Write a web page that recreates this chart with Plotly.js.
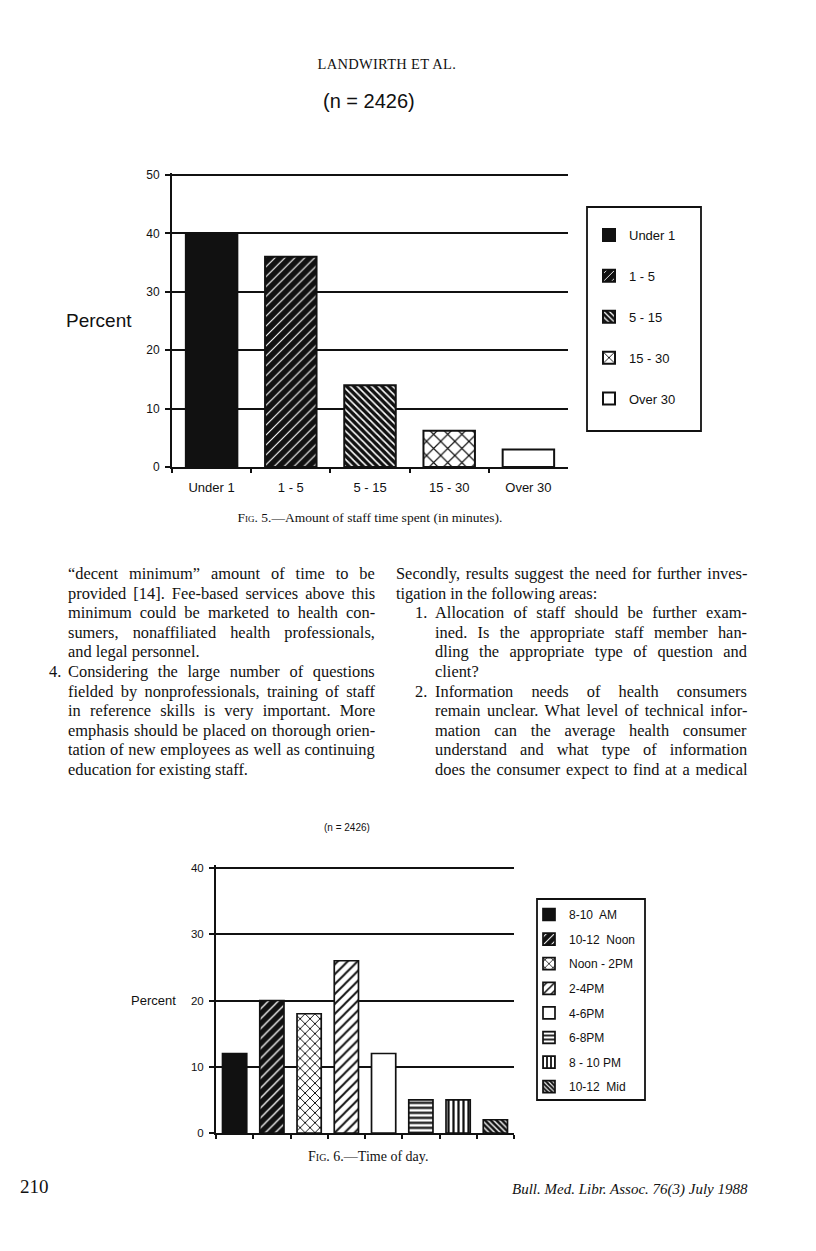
<!DOCTYPE html>
<html>
<head>
<meta charset="utf-8">
<script src="https://cdn.plot.ly/plotly-3.0.1.min.js"></script>
<style>
html,body{margin:0;padding:0;background:#fff;}
#page{position:relative;width:816px;height:1251px;overflow:hidden;background:#fff;}
#plot{position:absolute;left:0;top:0;width:816px;height:1251px;}
.t{position:absolute;font-family:"Liberation Serif","Times New Roman",serif;color:#111;white-space:nowrap;}
.line{position:absolute;font-family:"Liberation Serif","Times New Roman",serif;font-size:16.4px;color:#111;white-space:nowrap;}
.sc{font-variant:small-caps;}
</style>
</head>
<body>
<div id="page">
  <div id="plot"></div>
  <div class="t" id="runhead" style="font-size:14.5px;letter-spacing:0.3px;">LANDWIRTH ET AL.</div>
  <div class="t" id="cap5" style="font-size:13.5px;">F<span class="sc">ig</span>. 5.—Amount of staff time spent (in minutes).</div>
  <div class="t" id="cap6" style="font-size:14px;">F<span class="sc">ig</span>. 6.—Time of day.</div>
  <div class="t" id="folio" style="font-size:19px;">210</div>
  <div class="t" id="journal" style="font-size:15px;font-style:italic;">Bull. Med. Libr. Assoc. 76(3) July 1988</div>
</div>
<script>
// ---------- DATA ----------
const fig5Categories = ['Under 1', '1 - 5', '5 - 15', '15 - 30', 'Over 30'];
const fig5Percent = [40, 36, 14, 6.2, 3];
const fig5YTicks = [0, 10, 20, 30, 40, 50];

const fig6Categories = ['8-10\u00a0 AM', '10-12\u00a0 Noon', 'Noon - 2PM', '2-4PM', '4-6PM', '6-8PM', '8 - 10 PM', '10-12\u00a0 Mid'];
const fig6Percent = [12, 20, 18, 26, 12, 5, 5, 2];
const fig6YTicks = [0, 10, 20, 30, 40];

const sampleLabel = '(n = 2426)';
const yLabel = 'Percent';

// body text lines (content only)
const leftLines = [
  {num: '', text: '“decent minimum” amount of time to be', just: true},
  {num: '', text: 'provided [14]. Fee-based services above this', just: true},
  {num: '', text: 'minimum could be marketed to health con-', just: true},
  {num: '', text: 'sumers, nonaffiliated health professionals,', just: true},
  {num: '', text: 'and legal personnel.', just: false},
  {num: '4.', text: 'Considering the large number of questions', just: true},
  {num: '', text: 'fielded by nonprofessionals, training of staff', just: true},
  {num: '', text: 'in reference skills is very important. More', just: true},
  {num: '', text: 'emphasis should be placed on thorough orien-', just: true},
  {num: '', text: 'tation of new employees as well as continuing', just: true},
  {num: '', text: 'education for existing staff.', just: false}
];
const rightLines = [
  {para: true, num: '', text: 'Secondly, results suggest the need for further inves-', just: true},
  {para: true, num: '', text: 'tigation in the following areas:', just: false},
  {num: '1.', text: 'Allocation of staff should be further exam-', just: true},
  {num: '', text: 'ined. Is the appropriate staff member han-', just: true},
  {num: '', text: 'dling the appropriate type of question and', just: true},
  {num: '', text: 'client?', just: false},
  {num: '2.', text: 'Information needs of health consumers', just: true},
  {num: '', text: 'remain unclear. What level of technical infor-', just: true},
  {num: '', text: 'mation can the average health consumer', just: true},
  {num: '', text: 'understand and what type of information', just: true},
  {num: '', text: 'does the consumer expect to find at a medical', just: true}
];

// ---------- PAGE TEXT PLACEMENT ----------
const page = document.getElementById('page');
function placeCentered(id, cx, cy) {
  const el = document.getElementById(id);
  el.style.left = (cx - el.offsetWidth / 2) + 'px';
  el.style.top = (cy - el.offsetHeight / 2) + 'px';
}
function placeLeft(id, x, cy) {
  const el = document.getElementById(id);
  el.style.left = x + 'px';
  el.style.top = (cy - el.offsetHeight / 2) + 'px';
}
function placeRight(id, x, cy) {
  const el = document.getElementById(id);
  el.style.left = (x - el.offsetWidth) + 'px';
  el.style.top = (cy - el.offsetHeight / 2) + 'px';
}
placeCentered('runhead', 387, 64);
placeCentered('cap5', 370, 518);
placeCentered('cap6', 368, 1157);
placeLeft('folio', 20, 1187);
placeRight('journal', 748, 1189);

const lineY0 = 574, lineStep = 19.6;
const leftCol = {paraX: 68, numX: 49, textX: 68, right: 375};
const rightCol = {paraX: 396, numX: 415, textX: 435, right: 747};
function placeColumn(lines, col) {
  lines.forEach((row, i) => {
    const cy = lineY0 + i * lineStep;
    const x = row.para ? col.paraX : col.textX;
    if (row.num) {
      const n = document.createElement('div');
      n.className = 'line';
      n.textContent = row.num;
      page.appendChild(n);
      n.style.left = col.numX + 'px';
      n.style.top = (cy - n.offsetHeight / 2) + 'px';
    }
    const el = document.createElement('div');
    el.className = 'line';
    el.textContent = row.text;
    page.appendChild(el);
    el.style.left = x + 'px';
    el.style.top = (cy - el.offsetHeight / 2) + 'px';
    if (row.just) {
      const spaces = (row.text.match(/ /g) || []).length;
      const w = el.offsetWidth;
      if (spaces) el.style.wordSpacing = ((col.right - x - w) / spaces) + 'px';
    }
  });
}
placeColumn(leftLines, leftCol);
placeColumn(rightLines, rightCol);

// ---------- CHART ----------
const W = 816, H = 1251;
const px = v => v / W;
const py = v => 1 - v / H;
const INK = '#111';
const sans = 'Liberation Sans, Arial, Helvetica, sans-serif';

// vertical placement of each chart: pixel of y=0, pixel of top tick value
const c1 = {zeroPx: 467, topPx: 175, topVal: 50, pad: 0.4};
const c2 = {zeroPx: 1133, topPx: 868, topVal: 40, pad: 0.4};
function yDomain(c) {
  const ppu = (c.zeroPx - c.topPx) / c.topVal;
  return [py(c.zeroPx), py(c.topPx - c.pad * ppu)];
}

const fig5Styles = [
  {color: INK},
  {color: INK, pattern: {shape: '/', bgcolor: INK, fgcolor: '#fff', size: 7, solidity: 0.16, fillmode: 'replace'}},
  {color: INK, pattern: {shape: '\\', bgcolor: INK, fgcolor: '#fff', size: 5, solidity: 0.32, fillmode: 'replace'}},
  {color: '#fff', pattern: {shape: 'x', bgcolor: '#fff', fgcolor: INK, size: 10, solidity: 0.22, fillmode: 'replace'}},
  {color: '#fff'}
];
const fig6Styles = [
  {color: INK},
  {color: INK, pattern: {shape: '/', bgcolor: INK, fgcolor: '#fff', size: 7, solidity: 0.18, fillmode: 'replace'}},
  {color: '#fff', pattern: {shape: 'x', bgcolor: '#fff', fgcolor: INK, size: 7, solidity: 0.26, fillmode: 'replace'}},
  {color: '#fff', pattern: {shape: '/', bgcolor: '#fff', fgcolor: INK, size: 7, solidity: 0.28, fillmode: 'replace'}},
  {color: '#fff'},
  {color: '#fff', pattern: {shape: '-', bgcolor: '#fff', fgcolor: INK, size: 5, solidity: 0.45, fillmode: 'replace'}},
  {color: '#fff', pattern: {shape: '|', bgcolor: '#fff', fgcolor: INK, size: 5, solidity: 0.45, fillmode: 'replace'}},
  {color: INK, pattern: {shape: '\\', bgcolor: INK, fgcolor: '#fff', size: 4, solidity: 0.35, fillmode: 'replace'}}
];

const traces = [];
fig5Categories.forEach((c, i) => {
  traces.push({
    type: 'bar', x: [c], y: [fig5Percent[i]], name: c, xaxis: 'x', yaxis: 'y',
    legend: 'legend', legendgroup: 'a' + i, hoverinfo: 'skip',
    marker: Object.assign({line: {color: INK, width: 2}}, fig5Styles[i])
  });
});
fig6Categories.forEach((c, i) => {
  traces.push({
    type: 'bar', x: [c], y: [fig6Percent[i]], name: c, xaxis: 'x2', yaxis: 'y2',
    legend: 'legend2', legendgroup: 'b' + i, hoverinfo: 'skip',
    marker: Object.assign({line: {color: INK, width: 1.7}}, fig6Styles[i])
  });
});

const boundaries = n => Array.from({length: n + 1}, (_, k) => k - 0.5);

const commonY = {
  ticks: 'outside', ticklen: 5, tickwidth: 2, tickcolor: INK,
  showline: true, linewidth: 2, linecolor: INK,
  showgrid: true, gridcolor: INK, gridwidth: 2, zeroline: false,
  tickfont: {size: 12, family: sans, color: INK}, ticklabelstandoff: 3, fixedrange: true
};
const commonX = {
  type: 'category', tickson: 'boundaries', ticks: 'outside', ticklen: 4, tickwidth: 2, tickcolor: INK,
  showline: true, linewidth: 2, linecolor: INK, showgrid: false, zeroline: false, fixedrange: true
};
const innerTicks = {
  type: 'linear', ticks: 'inside', ticklen: 4, tickwidth: 2, tickcolor: INK,
  showline: false, showgrid: false, zeroline: false, showticklabels: false, fixedrange: true
};

const layout = {
  width: W, height: H, margin: {l: 0, r: 0, t: 0, b: 0},
  paper_bgcolor: 'rgba(0,0,0,0)', plot_bgcolor: 'rgba(0,0,0,0)',
  barmode: 'overlay', bargap: 0.35,
  font: {family: sans, color: INK},
  showlegend: true,
  xaxis: Object.assign({}, commonX, {
    domain: [px(172), px(568)], anchor: 'y', categoryarray: fig5Categories, categoryorder: 'array',
    tickfont: {size: 13, family: sans, color: INK}, ticklabelstandoff: 7
  }),
  yaxis: Object.assign({}, commonY, {domain: yDomain(c1), anchor: 'x', range: [0, c1.topVal + c1.pad], tickvals: fig5YTicks}),
  xaxis2: Object.assign({}, commonX, {
    domain: [px(216), px(514)], anchor: 'y2', categoryarray: fig6Categories, categoryorder: 'array',
    showticklabels: false
  }),
  yaxis2: Object.assign({}, commonY, {domain: yDomain(c2), anchor: 'x2', range: [0, c2.topVal + c2.pad], tickvals: fig6YTicks, tickfont: {size: 11.5, family: sans, color: INK}}),
  xaxis3: Object.assign({}, innerTicks, {overlaying: 'x', anchor: 'y', range: [-0.5, fig5Categories.length - 0.5], tickvals: boundaries(fig5Categories.length)}),
  xaxis4: Object.assign({}, innerTicks, {overlaying: 'x2', anchor: 'y2', range: [-0.5, fig6Categories.length - 0.5], tickvals: boundaries(fig6Categories.length)}),
  legend: {
    x: px(589), y: py(220), xanchor: 'left', yanchor: 'top', bgcolor: 'rgba(0,0,0,0)', borderwidth: 0,
    font: {size: 13, family: sans, color: INK}, tracegroupgap: 21, traceorder: 'grouped'
  },
  legend2: {
    x: px(529), y: py(900), xanchor: 'left', yanchor: 'top', bgcolor: 'rgba(0,0,0,0)', borderwidth: 0,
    font: {size: 12, family: sans, color: INK}, tracegroupgap: 5.6, traceorder: 'grouped'
  },
  shapes: [
    {type: 'rect', xref: 'paper', yref: 'paper', x0: px(587), x1: px(701), y0: py(431), y1: py(207), line: {color: INK, width: 1.8}},
    {type: 'rect', xref: 'paper', yref: 'paper', x0: px(537), x1: px(645), y0: py(1100), y1: py(899), line: {color: INK, width: 1.8}}
  ],
  annotations: [
    {text: sampleLabel, xref: 'paper', yref: 'paper', x: px(369), y: py(101), xanchor: 'center', yanchor: 'middle', showarrow: false, font: {size: 20, family: sans, color: INK}},
    {text: yLabel, xref: 'paper', yref: 'paper', x: px(99), y: py(321), xanchor: 'center', yanchor: 'middle', showarrow: false, font: {size: 19, family: sans, color: INK}},
    {text: sampleLabel, xref: 'paper', yref: 'paper', x: px(347), y: py(827), xanchor: 'center', yanchor: 'middle', showarrow: false, font: {size: 10, family: sans, color: INK}},
    {text: yLabel, xref: 'paper', yref: 'paper', x: px(153), y: py(1000), xanchor: 'center', yanchor: 'middle', showarrow: false, font: {size: 13, family: sans, color: INK}}
  ]
};

Plotly.newPlot('plot', traces, layout, {staticPlot: true, displayModeBar: false});
</script>
</body>
</html>
